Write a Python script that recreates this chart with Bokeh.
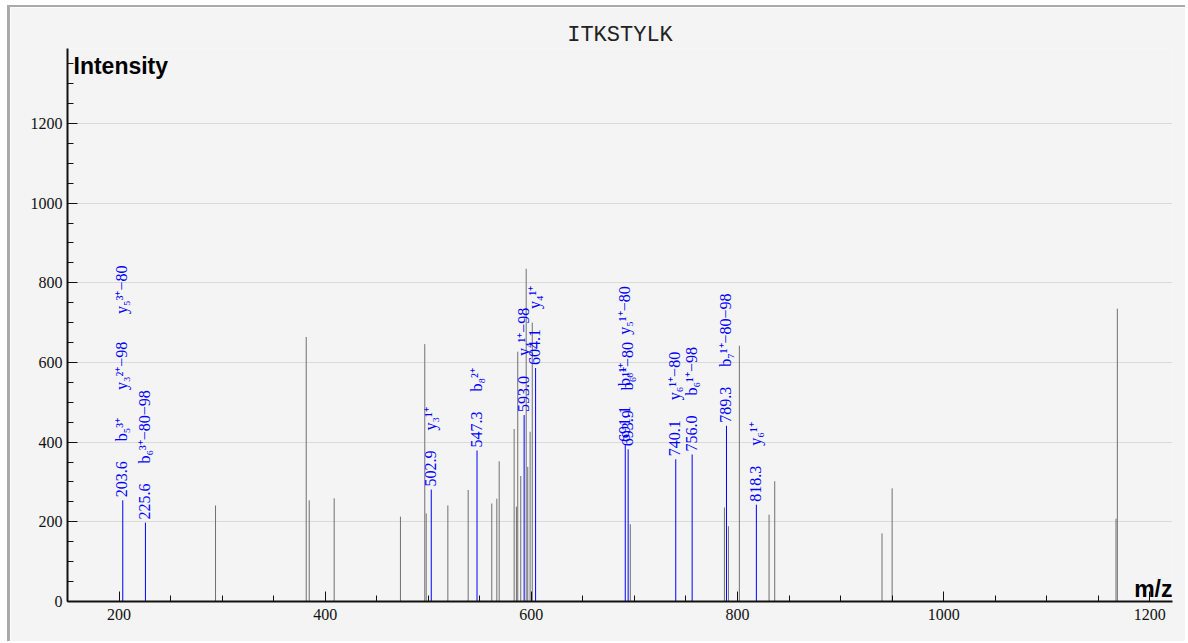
import math
from bokeh.plotting import figure
from bokeh.models import ColumnDataSource, Label, SingleIntervalTicker, Range1d
from bokeh.core.properties import value
from bokeh.embed import file_html
from bokeh.resources import INLINE

# ---------------- data ----------------
title_text = "ITKSTYLK"
x_label = "m/z"
y_label = "Intensity"

# unmatched (grey) peaks
other_mz = [293.6, 381.6, 384.5, 408.7, 473.0, 496.6, 498.0, 519.0, 538.7, 561.6,
            566.5, 568.8, 583.3, 585.5, 586.8, 589.7, 595.0, 596.5, 598.8, 600.9,
            696.0, 787.3, 791.2, 801.8, 830.6, 836.1, 940.2, 950.0, 1167.2, 1168.5]
other_int = [241, 664, 254, 259, 213, 646, 221, 241, 280, 246,
             258, 352, 433, 238, 627, 315, 835, 338, 426, 700,
             194, 236, 189, 642, 218, 302, 171, 284, 208, 735]

# matched (blue) peaks
matched_mz = [203.6, 225.6, 502.9, 547.3, 593.0, 604.1, 691.1, 693.9, 740.1, 756.0, 789.3, 818.3]
matched_int = [254, 198, 281, 379, 468, 586, 393, 382, 357, 369, 441, 243]
matched_ions = [
    ["b₅³⁺", "y₃²⁺−98", "y₅³⁺−80"],
    ["b₆³⁺−80−98"],
    ["y₃¹⁺"],
    ["b₈²⁺"],
    ["y₄¹⁺−98"],
    ["y₄¹⁺"],
    ["b₆¹⁺", "y₅¹⁺−80"],
    ["b₆¹⁺−80"],
    ["y₆¹⁺−80"],
    ["b₆¹⁺−98"],
    ["b₇¹⁺−80−98"],
    ["y₆¹⁺"],
]

# ---------------- styles ----------------
BG = "#f4f4f4"
GREY = "#707070"
BLUE = "#0000ff"
SERIF = "Liberation Serif"
LABEL_PX = 16
GAP_PX = 20
PRE_PX = 3

def text_width(s, px=LABEL_PX):
    w = 0.0
    for ch in s:
        if ch.isdigit():
            w += 0.5
        elif ch == ".":
            w += 0.25
        elif ch == "−":
            w += 0.564
        elif ch in "⁺":
            w += 0.45
        elif ch in "⁰¹²³⁴⁵⁶⁷⁸⁹₀₁₂₃₄₅₆₇₈₉":
            w += 0.32
        else:
            w += 0.5
    return w * px

num_x, num_y, num_t, num_off = [], [], [], []
ion_x, ion_y, ion_t, ion_off = [], [], [], []
for mz, it, ions in zip(matched_mz, matched_int, matched_ions):
    lab = f"{mz:.1f}"
    num_x.append(mz); num_y.append(it); num_t.append(lab); num_off.append(-PRE_PX)
    off = PRE_PX + text_width(lab) + GAP_PX
    for ion in ions:
        ion_x.append(mz); ion_y.append(it); ion_t.append(ion); ion_off.append(-off)
        off += text_width(ion) + GAP_PX

p = figure(width=1178, height=636,
           x_range=Range1d(150, 1222), y_range=Range1d(0, 1388),
           output_backend="svg", toolbar_location=None,
           min_border_left=57, min_border_right=16, min_border_top=41, min_border_bottom=42)
p.styles = {"border-top": "2px solid #aaaaaa", "border-left": "3px solid #aaaaaa",
            "margin-top": "5px", "margin-left": "7px"}

p.background_fill_color = BG
p.border_fill_color = BG
p.outline_line_color = None

p.title.text = title_text
p.title.align = "center"
p.title.text_font = "Liberation Mono"
p.title.text_font_style = "normal"
p.title.text_font_size = "22px"
p.title.text_color = "#222222"
p.title.standoff = 2

for ax in (p.xaxis[0], p.yaxis[0]):
    ax.ticker = SingleIntervalTicker(interval=200, num_minor_ticks=4)
    ax.axis_line_color = "#111111"
    ax.axis_line_width = 2
    ax.major_tick_in = 10
    ax.major_tick_out = 0
    ax.minor_tick_in = 6
    ax.minor_tick_out = 0
    ax.major_tick_line_color = "#111111"
    ax.minor_tick_line_color = "#111111"
    ax.major_label_text_font = SERIF
    ax.major_label_text_font_size = "16px"
    ax.major_label_text_color = "#111111"
p.yaxis[0].major_label_standoff = 5
p.xaxis[0].major_label_standoff = 7

p.xgrid.grid_line_color = None
p.ygrid.grid_line_color = "#dadada"
p.ygrid.grid_line_width = 1

# peaks
src_o = ColumnDataSource(dict(mz=other_mz, it=other_int))
p.segment(x0="mz", y0=0, x1="mz", y1="it", source=src_o, line_color=GREY, line_width=1)
src_m = ColumnDataSource(dict(mz=matched_mz, it=matched_int))
p.segment(x0="mz", y0=0, x1="mz", y1="it", source=src_m, line_color=BLUE, line_width=1)

src_n = ColumnDataSource(dict(x=num_x, y=num_y, t=num_t, off=num_off))
p.text(x="x", y="y", text="t", source=src_n, angle=math.pi / 2,
       text_align="left", text_baseline="middle", y_offset="off", x_offset=-1,
       text_font=value(SERIF), text_font_size=f"{LABEL_PX}px", text_color=BLUE)
src_i = ColumnDataSource(dict(x=ion_x, y=ion_y, t=ion_t, off=ion_off))
p.text(x="x", y="y", text="t", source=src_i, angle=math.pi / 2,
       text_align="left", text_baseline="middle", y_offset="off", x_offset=-1,
       text_font=value(SERIF), text_font_size=f"{LABEL_PX}px", text_color=BLUE)

# axis titles
p.add_layout(Label(x=p.x_range.start, y=p.y_range.end, text=y_label, x_offset=6, y_offset=-4,
                   text_align="left", text_baseline="top", text_font="Liberation Sans",
                   text_font_style="bold", text_font_size="23px", text_color="black"))
p.add_layout(Label(x=p.x_range.end, y=p.y_range.start, text=x_label, x_offset=0, y_offset=0,
                   text_align="right", text_baseline="bottom", text_font="Liberation Sans",
                   text_font_style="bold", text_font_size="23px", text_color="black"))

open("out.html", "w").write(file_html(p, INLINE))
